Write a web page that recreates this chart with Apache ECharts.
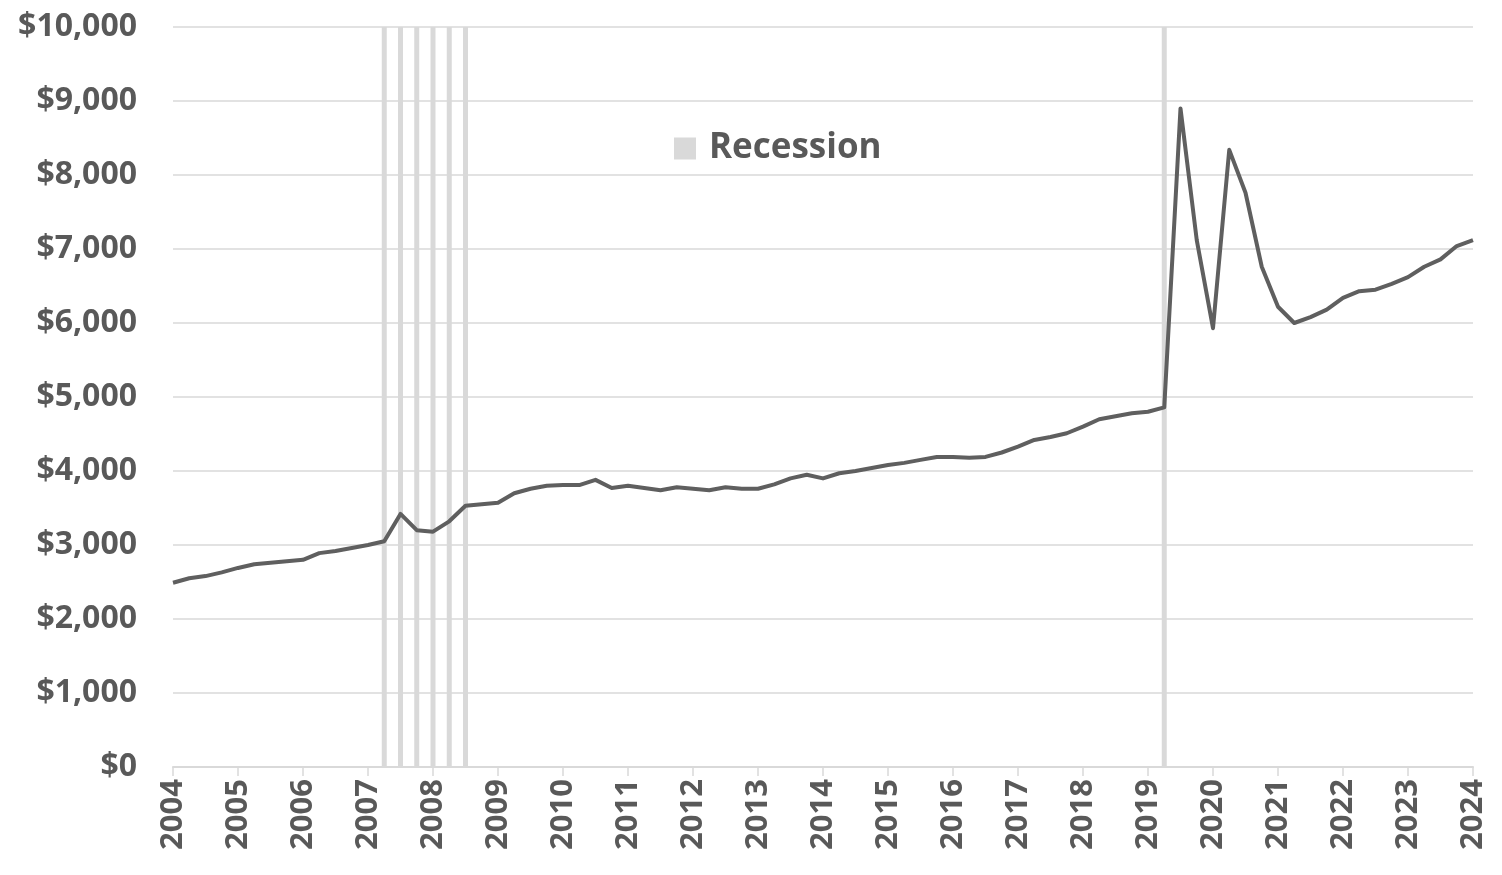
<!DOCTYPE html>
<html>
<head>
<meta charset="utf-8">
<script src="https://cdn.jsdelivr.net/npm/echarts@6/dist/echarts.min.js"></script>
<style>
  html, body { margin: 0; padding: 0; background: #fff; }
  #chart { width: 1502px; height: 875px; }
</style>
</head>
<body>
<div id="chart"></div>
<script>
// quarterly points, 2004 Q1 .. 2024 Q1
const years = []
for (let y = 2004; y <= 2024; y++) years.push(String(y))
const quarters = []
years.forEach((y, i) => {
    const n = i === years.length - 1 ? 1 : 4
    for (let q = 1; q <= n; q++) quarters.push(y + ' Q' + q)
})

const values = [
    2490, 2550, 2580, 2630, 2690, 2740, 2760, 2780, 2800, 2890,
    2920, 2960, 3000, 3050, 3420, 3200, 3180, 3320, 3530, 3550,
    3570, 3700, 3760, 3800, 3810, 3810, 3880, 3770, 3800, 3770,
    3740, 3780, 3760, 3740, 3780, 3760, 3760, 3820, 3900, 3950,
    3900, 3970, 4000, 4040, 4080, 4110, 4150, 4190, 4190, 4180,
    4190, 4250, 4330, 4420, 4460, 4510, 4600, 4700, 4740, 4780,
    4800, 4860, 8900, 7120, 5930, 8340, 7760, 6760, 6220, 6000,
    6080, 6180, 6340, 6430, 6450, 6530, 6620, 6760, 6860, 7040,
    7120
]

// quarters flagged as recession
const recessionIdx = [13, 14, 15, 16, 17, 18, 61]
const recession = quarters.map((q, i) => recessionIdx.includes(i) ? 10000 : null)

const yTicks = { min: 0, max: 10000, interval: 1000 }

const textColor = '#595959'
const gridColor = '#d9d9d9'
const font = '"Open Sans", "DejaVu Sans", sans-serif'

const chart = echarts.init(document.getElementById('chart'))
const option = {
    animation: false,
    backgroundColor: '#fff',
    grid: {
        left: 173,
        right: 29,
        top: 27,
        bottom: 108,
        containLabel: false,
    },
    legend: {
        data: [{ name: 'Recession', icon: 'rect' }],
        left: 669,
        top: 126,
        itemWidth: 22,
        itemHeight: 22,
        itemGap: 8,
        textStyle: {
            color: textColor,
            fontSize: 35,
            fontWeight: 'bold',
            fontFamily: font,
            padding: [0, 0, 0, 8],
        },
    },
    xAxis: {
        type: 'category',
        data: quarters,
        boundaryGap: false,
        axisLine: { lineStyle: { color: gridColor, width: 2 } },
        axisTick: {
            interval: 3,
            length: 9,
            lineStyle: { color: gridColor, width: 1.5 },
        },
        axisLabel: {
            interval: 3,
            rotate: 90,
            margin: 12,
            color: textColor,
            fontSize: 31,
            fontWeight: 'bold',
            fontFamily: font,
            formatter: (v) => v.slice(0, 4),
        },
        splitLine: { show: false },
    },
    yAxis: {
        type: 'value',
        min: yTicks.min,
        max: yTicks.max,
        interval: yTicks.interval,
        axisLine: { show: false },
        axisTick: { show: false },
        axisLabel: {
            margin: 36,
            color: textColor,
            fontSize: 32,
            fontWeight: 'bold',
            fontFamily: font,
            formatter: (v) => '$' + v.toLocaleString('en-US'),
        },
        splitLine: { lineStyle: { color: gridColor, width: 1.5 } },
    },
    series: [
        {
            name: 'Recession',
            type: 'bar',
            data: recession,
            barWidth: 5,
            itemStyle: { color: gridColor },
            z: 2,
        },
        {
            name: 'Spending',
            type: 'line',
            data: values,
            symbol: 'none',
            lineStyle: { color: '#5f5f5f', width: 4, join: 'round' },
            z: 3,
        },
    ],
}
chart.setOption(option)
</script>
</body>
</html>
